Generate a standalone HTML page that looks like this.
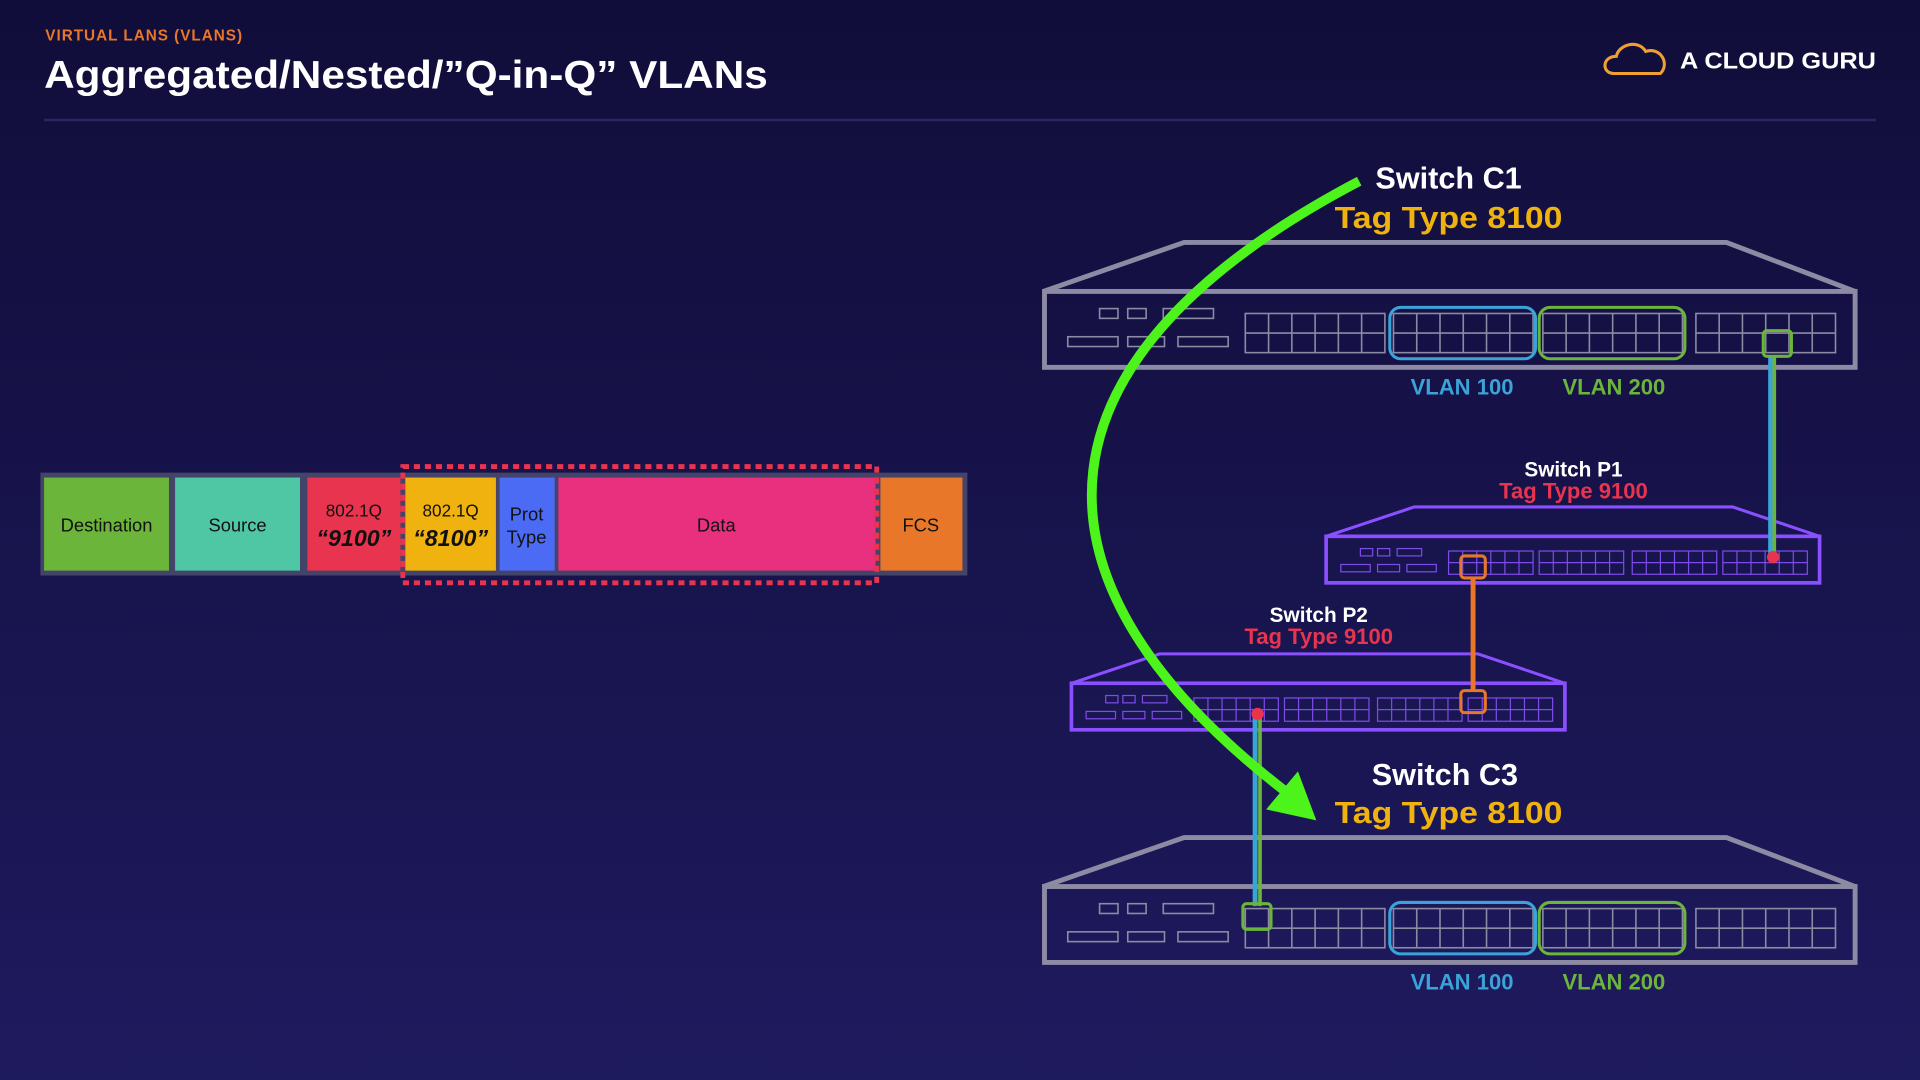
<!DOCTYPE html>
<html><head><meta charset="utf-8"><style>
html,body{margin:0;padding:0;width:1920px;height:1080px;overflow:hidden;background:#15113f}
svg{display:block}
text{font-family:"Liberation Sans",sans-serif;font-weight:bold}
text.n{font-weight:normal}
</style></head><body>
<svg width="1920" height="1080" viewBox="0 0 1568 882" xmlns="http://www.w3.org/2000/svg">
<defs>
<linearGradient id="bg" x1="0" y1="0" x2="0" y2="1">
<stop offset="0" stop-color="#110d3a"/><stop offset="1" stop-color="#1e1a5e"/>
</linearGradient>
<g id="gC" fill="none" stroke="#8d8aa3" stroke-width="1.3">
<rect x="0" y="0" width="114" height="32"/><line x1="0" y1="16" x2="114" y2="16"/>
<line x1="19" y1="0" x2="19" y2="32"/><line x1="38" y1="0" x2="38" y2="32"/><line x1="57" y1="0" x2="57" y2="32"/><line x1="76" y1="0" x2="76" y2="32"/><line x1="95" y1="0" x2="95" y2="32"/>
</g>
<g id="gP" fill="none" stroke="#7d4be8" stroke-width="1">
<rect x="0" y="0" width="69" height="19"/><line x1="0" y1="9.5" x2="69" y2="9.5"/>
<line x1="11.5" y1="0" x2="11.5" y2="19"/><line x1="23" y1="0" x2="23" y2="19"/><line x1="34.5" y1="0" x2="34.5" y2="19"/><line x1="46" y1="0" x2="46" y2="19"/><line x1="57.5" y1="0" x2="57.5" y2="19"/>
</g>
<g id="swC">
<path d="M852,238 L967,198 L1410,198 L1515,238" fill="none" stroke="#8d8aa3" stroke-width="4"/>
<rect x="853" y="238" width="662" height="62" fill="none" stroke="#8d8aa3" stroke-width="4"/>
<g fill="none" stroke="#8d8aa3" stroke-width="1.3">
<rect x="898" y="252" width="15" height="8"/><rect x="921" y="252" width="15" height="8"/><rect x="950" y="252" width="41" height="8"/>
<rect x="872" y="275" width="41" height="8"/><rect x="921" y="275" width="30" height="8"/><rect x="962" y="275" width="41" height="8"/>
</g>
<use href="#gC" x="1017" y="256"/><use href="#gC" x="1138" y="256"/><use href="#gC" x="1260" y="256"/><use href="#gC" x="1385" y="256"/>
<rect x="1135" y="251" width="119" height="42" rx="9" fill="none" stroke="#3aa3d8" stroke-width="2.5"/>
<rect x="1257" y="251" width="119" height="42" rx="9" fill="none" stroke="#6ab53a" stroke-width="2.5"/>
</g>
<g id="swP">
<path d="M0,24 L72,0 L332,0 L403,24" fill="none" stroke="#8a4fff" stroke-width="2.5"/>
<rect x="0" y="24" width="403" height="38" fill="none" stroke="#8a4fff" stroke-width="3"/>
<g fill="none" stroke="#7d4be8" stroke-width="1">
<rect x="28" y="34" width="10" height="6"/><rect x="42" y="34" width="10" height="6"/><rect x="58" y="34" width="20" height="6"/>
<rect x="12" y="47" width="24" height="6"/><rect x="42" y="47" width="18" height="6"/><rect x="66" y="47" width="24" height="6"/>
</g>
<use href="#gP" x="100" y="36"/><use href="#gP" x="174" y="36"/><use href="#gP" x="250" y="36"/><use href="#gP" x="324" y="36"/>
</g>
</defs>
<rect width="1568" height="882" fill="url(#bg)"/>
<text x="37" y="33" font-size="12.5" fill="#e8772a" letter-spacing="0.8">VIRTUAL LANS (VLANS)</text>
<text x="36" y="72" font-size="32" fill="#fff" textLength="591" lengthAdjust="spacingAndGlyphs">Aggregated/Nested/”Q-in-Q” VLANs</text>
<line x1="36" y1="98" x2="1532" y2="98" stroke="#2a2760" stroke-width="2"/>
<path d="M1318,60 C1308,60 1308,46 1320,46 C1322,36 1338,32 1344,42 C1356,38 1364,52 1356,60 Z" fill="none" stroke="#f0a030" stroke-width="2.5"/>
<text x="1372" y="56" font-size="19" fill="#fff" textLength="160" lengthAdjust="spacingAndGlyphs">A CLOUD GURU</text>

<rect x="33" y="386" width="757" height="84" fill="#44446a"/>
<rect x="36" y="390" width="102" height="76" fill="#6ab53a"/>
<rect x="143" y="390" width="102" height="76" fill="#4fc7a5"/>
<rect x="251" y="390" width="76" height="76" fill="#e8344e"/>
<rect x="331" y="390" width="74" height="76" fill="#f0b20e"/>
<rect x="408" y="390" width="45" height="76" fill="#4b6bf5"/>
<rect x="456" y="390" width="259" height="76" fill="#e8307f"/>
<rect x="719" y="390" width="67" height="76" fill="#e8772a"/>
<rect x="329" y="381" width="387" height="95" fill="none" stroke="#e8344e" stroke-width="4" stroke-dasharray="5,4"/>
<g fill="#111" text-anchor="middle" font-size="15">
<text class="n" x="87" y="434">Destination</text>
<text class="n" x="194" y="434">Source</text>
<text class="n" x="289" y="422" font-size="14">802.1Q</text>
<text class="n" x="368" y="422" font-size="14">802.1Q</text>
<text class="n" x="430" y="425">Prot</text>
<text class="n" x="430" y="444">Type</text>
<text class="n" x="585" y="434">Data</text>
<text class="n" x="752" y="434">FCS</text>
</g>
<text x="289" y="446" font-size="19" font-style="italic" text-anchor="middle" fill="#111">“9100”</text>
<text x="368" y="446" font-size="19" font-style="italic" text-anchor="middle" fill="#111">“8100”</text>

<use href="#swC"/>
<use href="#swC" y="486"/>
<use href="#swP" x="1083" y="414"/>
<use href="#swP" x="875" y="534"/>

<text x="1183" y="154" font-size="25" fill="#fff" text-anchor="middle">Switch C1</text>
<text x="1183" y="186" font-size="25" fill="#f0b20e" text-anchor="middle" textLength="186" lengthAdjust="spacingAndGlyphs">Tag Type 8100</text>
<text x="1194" y="322" font-size="18" fill="#3aa3d8" text-anchor="middle">VLAN 100</text>
<text x="1318" y="322" font-size="18" fill="#6ab53a" text-anchor="middle">VLAN 200</text>
<text x="1285" y="389" font-size="17" fill="#fff" text-anchor="middle">Switch P1</text>
<text x="1285" y="407" font-size="18" fill="#e8344e" text-anchor="middle">Tag Type 9100</text>
<text x="1077" y="508" font-size="17" fill="#fff" text-anchor="middle">Switch P2</text>
<text x="1077" y="526" font-size="18" fill="#e8344e" text-anchor="middle">Tag Type 9100</text>
<text x="1180" y="641" font-size="25" fill="#fff" text-anchor="middle">Switch C3</text>
<text x="1183" y="672" font-size="25" fill="#f0b20e" text-anchor="middle" textLength="186" lengthAdjust="spacingAndGlyphs">Tag Type 8100</text>
<text x="1194" y="808" font-size="18" fill="#3aa3d8" text-anchor="middle">VLAN 100</text>
<text x="1318" y="808" font-size="18" fill="#6ab53a" text-anchor="middle">VLAN 200</text>

<line x1="1446" y1="290" x2="1446" y2="455" stroke="#3aa3d8" stroke-width="4"/>
<line x1="1449" y1="290" x2="1449" y2="455" stroke="#6ab53a" stroke-width="3"/>
<rect x="1440" y="270" width="23" height="21" rx="3" fill="none" stroke="#6ab53a" stroke-width="2.5"/>
<circle cx="1448" cy="455" r="5" fill="#e8344e"/>
<line x1="1203" y1="472" x2="1203" y2="565" stroke="#e8772a" stroke-width="4"/>
<rect x="1193" y="454" width="20" height="18" rx="3" fill="none" stroke="#e8772a" stroke-width="2.5"/>
<rect x="1193" y="564" width="20" height="18" rx="3" fill="none" stroke="#e8772a" stroke-width="2.5"/>
<line x1="1025" y1="584" x2="1025" y2="740" stroke="#3aa3d8" stroke-width="4"/>
<line x1="1029" y1="584" x2="1029" y2="740" stroke="#6ab53a" stroke-width="3"/>
<rect x="1015" y="738" width="23" height="21" rx="3" fill="none" stroke="#6ab53a" stroke-width="2.5"/>
<circle cx="1027" cy="583" r="5" fill="#e8344e"/>

<path d="M1110,148 C840,290 820,470 1052,648" fill="none" stroke="#4cf41c" stroke-width="8"/>
<polygon points="1075,670 1034,661 1060,630" fill="#4cf41c"/>
</svg>
</body></html>
